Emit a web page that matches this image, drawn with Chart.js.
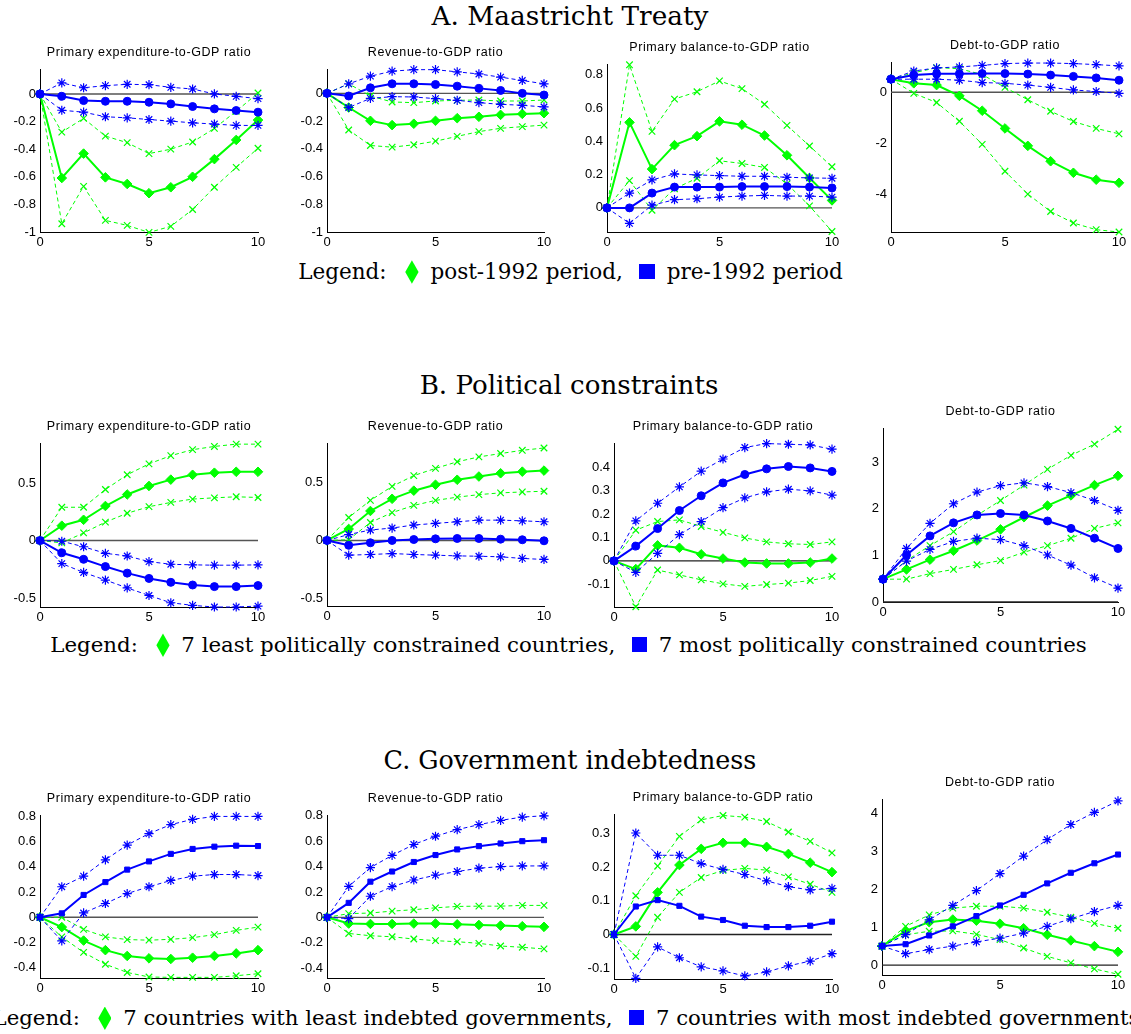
<!DOCTYPE html>
<html><head><meta charset="utf-8">
<script src="https://cdn.jsdelivr.net/npm/chart.js@4.4.1/dist/chart.umd.min.js"></script>
<style>
html,body{margin:0;padding:0;background:#fff;}
body{width:1131px;height:1034px;position:relative;overflow:hidden;}
.cv{position:absolute;}
.ptitle{position:absolute;font-family:"Liberation Sans",Arial,sans-serif;font-size:12.5px;letter-spacing:0.6px;white-space:nowrap;color:#000;line-height:1;}
.fit{position:absolute;font-family:"DejaVu Serif",serif;white-space:nowrap;color:#000;line-height:1.2;}
.dia{display:inline-block;width:0.62em;height:1.1em;background:#00ff00;clip-path:polygon(50% 0,100% 50%,50% 100%,0 50%);vertical-align:-0.22em;margin:0 0.55em 0 0.55em;}
.sq{display:inline-block;width:0.72em;height:0.72em;background:#0000ff;vertical-align:0;margin:0 0.55em 0 0.45em;}
</style></head><body>
<script>
// ---------- shared ----------
const steps = [0,1,2,3,4,5,6,7,8,9,10];
const xTickValues = [0,5,10];
const zeroLine = [0,0,0,0,0,0,0,0,0,0,0];
const panelTitles = ["Primary expenditure-to-GDP ratio","Revenue-to-GDP ratio","Primary balance-to-GDP ratio","Debt-to-GDP ratio"];
const sectionTitles = ["A.  Maastricht Treaty","B.  Political constraints","C.  Government indebtedness"];
const legendLabels = [
  ["post-1992 period,","pre-1992 period"],
  ["7 least politically constrained countries,","7 most politically constrained countries"],
  ["7 countries with least indebted governments,","7 countries with most indebted governments"]
];

// ---------- A. Maastricht Treaty ----------
const aExpG   = [0,-0.609,-0.432,-0.604,-0.652,-0.719,-0.676,-0.600,-0.472,-0.333,-0.189];
const aExpGUp = [0,-0.276,-0.177,-0.305,-0.353,-0.432,-0.400,-0.348,-0.249,-0.125,0.007];
const aExpGLo = [0,-0.940,-0.669,-0.916,-0.952,-1.003,-0.959,-0.837,-0.676,-0.532,-0.393];
const aExpB   = [0,-0.017,-0.048,-0.053,-0.053,-0.060,-0.072,-0.091,-0.108,-0.120,-0.132];
const aExpBUp = [0,0.080,0.045,0.060,0.070,0.067,0.048,0.036,0.000,-0.017,-0.034];
const aExpBLo = [0,-0.118,-0.132,-0.165,-0.173,-0.185,-0.197,-0.209,-0.218,-0.228,-0.228];
const aExpTicks = [-1,-0.8,-0.6,-0.4,-0.2,0];

const aRevG   = [0,-0.102,-0.198,-0.229,-0.219,-0.198,-0.179,-0.169,-0.155,-0.148,-0.143];
const aRevGUp = [0,0.069,-0.019,-0.062,-0.067,-0.055,-0.050,-0.048,-0.055,-0.055,-0.048];
const aRevGLo = [0,-0.264,-0.376,-0.388,-0.371,-0.345,-0.310,-0.276,-0.252,-0.240,-0.229];
const aRevB   = [0,-0.019,0.040,0.069,0.069,0.064,0.052,0.036,0.021,0.000,-0.012];
const aRevBUp = [0,0.069,0.124,0.160,0.171,0.171,0.155,0.140,0.117,0.093,0.069];
const aRevBLo = [0,-0.102,-0.036,-0.024,-0.026,-0.038,-0.050,-0.067,-0.079,-0.086,-0.098];
const aRevTicks = [-1,-0.8,-0.6,-0.4,-0.2,0];

const aBalG   = [0,0.514,0.233,0.377,0.431,0.520,0.500,0.435,0.316,0.180,0.045];
const aBalGUp = [0,0.860,0.460,0.654,0.698,0.763,0.717,0.623,0.496,0.372,0.247];
const aBalGLo = [0,0.164,-0.014,0.115,0.178,0.283,0.267,0.243,0.144,0.012,-0.142];
const aBalB   = [0,0.000,0.089,0.125,0.125,0.125,0.128,0.128,0.128,0.125,0.120];
const aBalBUp = [0,0.089,0.168,0.204,0.198,0.194,0.190,0.190,0.184,0.180,0.178];
const aBalBLo = [0,-0.093,0.016,0.049,0.055,0.065,0.071,0.075,0.071,0.071,0.065];
const aBalTicks = [0,0.2,0.4,0.6,0.8];

const aDebtG   = [0.51,0.35,0.28,-0.14,-0.72,-1.41,-2.09,-2.69,-3.14,-3.41,-3.53];
const aDebtGUp = [0.51,0.76,0.96,0.92,0.69,0.19,-0.29,-0.74,-1.14,-1.41,-1.62];
const aDebtGLo = [0.51,-0.04,-0.40,-1.13,-2.03,-3.08,-3.97,-4.65,-5.10,-5.36,-5.45];
const aDebtB   = [0.51,0.67,0.72,0.72,0.73,0.73,0.71,0.67,0.62,0.56,0.47];
const aDebtBUp = [0.51,0.83,0.95,0.99,1.05,1.12,1.14,1.14,1.12,1.08,1.03];
const aDebtBLo = [0.51,0.51,0.51,0.47,0.38,0.35,0.28,0.19,0.09,0.03,-0.04];
const aDebtTicks = [-4,-2,0];

// ---------- B. Political constraints ----------
const bExpG   = [0,0.129,0.180,0.300,0.400,0.474,0.529,0.571,0.589,0.597,0.597];
const bExpGUp = [0,0.289,0.289,0.443,0.571,0.666,0.737,0.789,0.817,0.837,0.837];
const bExpGLo = [0,-0.020,0.066,0.160,0.237,0.294,0.331,0.360,0.371,0.380,0.374];
const bExpB   = [0,-0.106,-0.163,-0.226,-0.283,-0.329,-0.363,-0.386,-0.400,-0.400,-0.391];
const bExpBUp = [0,-0.006,-0.054,-0.111,-0.134,-0.183,-0.206,-0.211,-0.214,-0.214,-0.211];
const bExpBLo = [0,-0.200,-0.277,-0.343,-0.411,-0.477,-0.540,-0.563,-0.577,-0.577,-0.569];
const bExpTicks = [-0.5,0,0.5];

const bRevG   = [0,0.099,0.254,0.359,0.429,0.480,0.523,0.551,0.579,0.593,0.602];
const bRevGUp = [0,0.198,0.345,0.466,0.559,0.621,0.678,0.720,0.749,0.777,0.797];
const bRevGLo = [0,0.006,0.155,0.240,0.302,0.345,0.373,0.395,0.410,0.418,0.424];
const bRevB   = [0,-0.042,-0.020,0.000,0.008,0.014,0.017,0.017,0.011,0.006,-0.003];
const bRevBUp = [0,0.051,0.090,0.107,0.133,0.147,0.161,0.175,0.175,0.169,0.161];
const bRevBLo = [0,-0.127,-0.121,-0.113,-0.121,-0.127,-0.133,-0.136,-0.141,-0.155,-0.164];
const bRevTicks = [-0.5,0,0.5];

const bBalG   = [0,-0.035,0.066,0.056,0.028,0.010,-0.007,-0.011,-0.011,-0.007,0.010];
const bBalGUp = [0,0.131,0.168,0.175,0.147,0.122,0.098,0.081,0.073,0.070,0.081];
const bBalGLo = [0,-0.196,-0.039,-0.060,-0.081,-0.098,-0.109,-0.101,-0.095,-0.084,-0.066];
const bBalB   = [0,0.063,0.138,0.215,0.278,0.333,0.369,0.393,0.403,0.397,0.382];
const bBalBUp = [0,0.171,0.246,0.316,0.383,0.435,0.484,0.501,0.498,0.495,0.477];
const bBalBLo = [0,-0.049,0.032,0.112,0.168,0.227,0.269,0.295,0.306,0.299,0.281];
const bBalTicks = [-0.1,0,0.1,0.2,0.3,0.4];

const bDebtG   = [0.49,0.70,0.91,1.10,1.32,1.56,1.82,2.07,2.29,2.51,2.71];
const bDebtGUp = [0.49,0.89,1.21,1.51,1.86,2.18,2.51,2.85,3.15,3.39,3.71];
const bDebtGLo = [0.49,0.49,0.61,0.70,0.80,0.89,1.07,1.21,1.37,1.58,1.70];
const bDebtB   = [0.49,1.01,1.42,1.70,1.87,1.90,1.87,1.74,1.58,1.37,1.15];
const bDebtBUp = [0.49,1.15,1.69,2.11,2.36,2.50,2.56,2.48,2.35,2.18,1.97];
const bDebtBLo = [0.49,0.88,1.13,1.30,1.37,1.34,1.21,1.01,0.79,0.52,0.30];
const bDebtTicks = [0,1,2,3];

// ---------- C. Government indebtedness ----------
const cExpG   = [0,-0.078,-0.185,-0.261,-0.307,-0.326,-0.331,-0.321,-0.307,-0.287,-0.261];
const cExpGUp = [0,0.000,-0.096,-0.156,-0.177,-0.182,-0.175,-0.162,-0.138,-0.104,-0.078];
const cExpGLo = [0,-0.156,-0.279,-0.373,-0.438,-0.474,-0.477,-0.477,-0.477,-0.464,-0.448];
const cExpB   = [0,0.031,0.177,0.279,0.378,0.443,0.503,0.542,0.560,0.568,0.565];
const cExpBUp = [0,0.242,0.326,0.456,0.573,0.664,0.735,0.777,0.800,0.800,0.800];
const cExpBLo = [0,-0.188,0.034,0.109,0.188,0.242,0.292,0.326,0.339,0.339,0.331];
const cExpTicks = [-0.4,-0.2,0,0.2,0.4,0.6,0.8];

const cRevG   = [0,-0.049,-0.052,-0.052,-0.049,-0.049,-0.055,-0.060,-0.065,-0.070,-0.075];
const cRevGUp = [0,0.029,0.034,0.049,0.060,0.075,0.086,0.088,0.088,0.094,0.094];
const cRevGLo = [0,-0.127,-0.145,-0.153,-0.171,-0.184,-0.192,-0.205,-0.226,-0.236,-0.249];
const cRevB   = [0,0.114,0.281,0.361,0.436,0.491,0.535,0.561,0.582,0.600,0.608];
const cRevBUp = [0,0.244,0.392,0.488,0.574,0.639,0.691,0.730,0.764,0.790,0.800];
const cRevBLo = [0,-0.010,0.166,0.242,0.294,0.332,0.361,0.387,0.400,0.405,0.405];
const cRevTicks = [-0.4,-0.2,0,0.2,0.4,0.6,0.8];

const cBalG   = [0,0.024,0.125,0.206,0.254,0.272,0.272,0.260,0.239,0.213,0.185];
const cBalGUp = [0,0.115,0.203,0.291,0.340,0.353,0.348,0.335,0.304,0.276,0.242];
const cBalGLo = [0,-0.065,0.051,0.125,0.169,0.190,0.196,0.191,0.171,0.149,0.125];
const cBalB   = [0,0.083,0.102,0.085,0.053,0.043,0.026,0.022,0.022,0.026,0.038];
const cBalBUp = [0,0.301,0.235,0.235,0.210,0.193,0.178,0.159,0.142,0.132,0.137];
const cBalBLo = [0,-0.130,-0.037,-0.069,-0.096,-0.108,-0.123,-0.111,-0.093,-0.079,-0.057];
const cBalTicks = [-0.1,0,0.1,0.2,0.3];

const cDebtG   = [0.50,0.90,1.13,1.20,1.17,1.09,0.97,0.80,0.65,0.50,0.35];
const cDebtGUp = [0.50,1.02,1.32,1.50,1.55,1.55,1.50,1.39,1.26,1.10,0.97];
const cDebtGLo = [0.50,0.80,0.89,0.90,0.81,0.67,0.45,0.23,0.06,-0.10,-0.24];
const cDebtB   = [0.50,0.55,0.78,1.02,1.29,1.57,1.85,2.15,2.43,2.68,2.91];
const cDebtBUp = [0.50,0.80,1.19,1.57,1.96,2.41,2.87,3.30,3.70,4.02,4.32];
const cDebtBLo = [0.50,0.30,0.41,0.50,0.61,0.71,0.84,1.02,1.22,1.41,1.57];
const cDebtTicks = [0,1,2,3,4];

// ---------- layout ----------
const GREEN = '#00ff00', BLUE = '#0000ff';
const panels = [
  {rect:[40,258,68,232],  yr:[-1,0.175],     ticks:aExpTicks,  s:[aExpG,aExpGUp,aExpGLo,aExpB,aExpBUp,aExpBLo], t:0, bm:'circle', zc:'#555'},
  {rect:[327,544,68,232], yr:[-1,0.17],      ticks:aRevTicks,  s:[aRevG,aRevGUp,aRevGLo,aRevB,aRevBUp,aRevBLo], t:1, bm:'circle', zc:'#555'},
  {rect:[607,832,63,232], yr:[-0.145,0.86],  ticks:aBalTicks,  s:[aBalG,aBalGUp,aBalGLo,aBalB,aBalBUp,aBalBLo], t:2, bm:'circle', zc:'#555'},
  {rect:[891,1119,61,232],yr:[-5.45,1.15],   ticks:aDebtTicks, s:[aDebtG,aDebtGUp,aDebtGLo,aDebtB,aDebtBUp,aDebtBLo], t:3, bm:'circle', zc:'#555'},
  {rect:[40,258,442,607], yr:[-0.577,0.84],  ticks:bExpTicks,  s:[bExpG,bExpGUp,bExpGLo,bExpB,bExpBUp,bExpBLo], t:0, bm:'circle', zc:'#555'},
  {rect:[327,544,442,606],yr:[-0.565,0.833], ticks:bRevTicks,  s:[bRevG,bRevGUp,bRevGLo,bRevB,bRevBUp,bRevBLo], t:1, bm:'circle', zc:'#555'},
  {rect:[614,832,442,607],yr:[-0.197,0.5],   ticks:bBalTicks,  s:[bBalG,bBalGUp,bBalGLo,bBalB,bBalBUp,bBalBLo], t:2, bm:'circle', zc:'#222'},
  {rect:[883,1118,427,602],yr:[0,3.72],      ticks:bDebtTicks, s:[bDebtG,bDebtGUp,bDebtGLo,bDebtB,bDebtBUp,bDebtBLo], t:3, bm:'circle', zc:'#222'},
  {rect:[40,258,814,978], yr:[-0.482,0.805], ticks:cExpTicks,  s:[cExpG,cExpGUp,cExpGLo,cExpB,cExpBUp,cExpBLo], t:0, bm:'rect', zc:'#555'},
  {rect:[327,544,814,978],yr:[-0.478,0.8],   ticks:cRevTicks,  s:[cRevG,cRevGUp,cRevGLo,cRevB,cRevBUp,cRevBLo], t:1, bm:'rect', zc:'#555'},
  {rect:[614,832,813,979],yr:[-0.132,0.355], ticks:cBalTicks,  s:[cBalG,cBalGUp,cBalGLo,cBalB,cBalBUp,cBalBLo], t:2, bm:'rect', zc:'#222'},
  {rect:[882,1118,798,975],yr:[-0.26,4.35],  ticks:cDebtTicks, s:[cDebtG,cDebtGUp,cDebtGLo,cDebtB,cDebtBUp,cDebtBLo], t:3, bm:'rect', zc:'#222'}
];
const sectionPos = [[570,17,277],[569,386,299],[570,760,373]];
const legendPos  = [[570.5,272,545],[568.5,645,1037],[566,1018,1147]];

const pts = arr => steps.map((s,i)=>({x:s,y:arr[i]}));
function midDs(arr,color,style){
  return {data:pts(arr),borderColor:color,backgroundColor:color,borderWidth:2,tension:0,clip:false,
    pointStyle:style,pointRadius:style==='rectRot'?4.8:(style==='rect'?3.6:4),pointBorderWidth:1,
    pointBorderColor:color,pointBackgroundColor:color};
}
function bandDs(arr,color,style){
  return {data:pts(arr),borderColor:color,borderWidth:1,borderDash:[4,3],tension:0,clip:false,
    pointStyle:style,pointRadius:4.6,pointBorderWidth:1.2,pointBorderColor:color,pointBackgroundColor:'rgba(0,0,0,0)'};
}

function makePanel(p){
  const [L,R,T,B] = p.rect;
  const padT=10, padR=14, yW=40, xH=22;
  const c = document.createElement('canvas');
  c.width = R-L+yW+padR; c.height = B-T+padT+xH;
  c.className='cv'; c.style.left=(L-yW)+'px'; c.style.top=(T-padT)+'px';
  document.body.appendChild(c);
  const [g,gu,gl,b,bu,bl] = p.s;
  const datasets = [
    midDs(b,BLUE,p.bm), bandDs(bu,BLUE,'star'), bandDs(bl,BLUE,'star'),
    midDs(g,GREEN,'rectRot'), bandDs(gu,GREEN,'crossRot'), bandDs(gl,GREEN,'crossRot'),
    {data:pts(zeroLine),borderColor:p.zc,borderWidth:1.4,pointRadius:0,tension:0,clip:false}
  ];
  const tickFont = {family:'"Liberation Sans", Arial, sans-serif', size:13};
  const yt = p.ticks;
  new Chart(c,{type:'line',data:{datasets},options:{
    responsive:false,animation:false,events:[],
    layout:{padding:{top:padT,right:padR,left:0,bottom:0}},
    plugins:{legend:{display:false},tooltip:{enabled:false}},
    scales:{
      x:{type:'linear',min:0,max:10,bounds:'data',
        afterBuildTicks:s=>{s.ticks=xTickValues.map(v=>({value:v}));},
        afterFit:s=>{s.height=xH;},
        grid:{display:false,drawTicks:false},
        border:{display:true,color:'#000',width:1},
        ticks:{padding:3,color:'#000',font:tickFont,maxRotation:0,autoSkip:false,callback:v=>String(v)}},
      y:{type:'linear',min:p.yr[0],max:p.yr[1],bounds:'data',
        afterBuildTicks:s=>{s.ticks=yt.map(v=>({value:v}));},
        afterFit:s=>{s.width=yW;},
        grid:{display:false,drawTicks:false},
        border:{display:true,color:'#000',width:1},
        ticks:{padding:4,color:'#000',font:tickFont,autoSkip:false,callback:v=>String(v)}}
    }}});
  const tt = document.createElement('div');
  tt.className='ptitle'; tt.textContent = panelTitles[p.t];
  document.body.appendChild(tt);
  const w = tt.getBoundingClientRect().width;
  tt.style.left = ((L+R)/2 - w/2)+'px';
  tt.style.top = (T - 11.5 - 11)+'px';
}

function placeFit(el,cx,cy,w){
  el.style.fontSize='20px';
  const r = el.getBoundingClientRect();
  el.style.fontSize = (20*w/r.width)+'px';
  const r2 = el.getBoundingClientRect();
  el.style.left = (cx - r2.width/2)+'px';
  el.style.top = (cy - r2.height/2)+'px';
}

sectionTitles.forEach((t,i)=>{
  const d=document.createElement('div'); d.className='fit'; d.textContent=t;
  document.body.appendChild(d);
  placeFit(d,...sectionPos[i]);
});
legendLabels.forEach((lab,i)=>{
  const d=document.createElement('div'); d.className='fit';
  d.appendChild(document.createTextNode('Legend: '));
  const di=document.createElement('span'); di.className='dia'; d.appendChild(di);
  d.appendChild(document.createTextNode(lab[0]+' '));
  const sq=document.createElement('span'); sq.className='sq'; d.appendChild(sq);
  d.appendChild(document.createTextNode(lab[1]));
  document.body.appendChild(d);
  placeFit(d,...legendPos[i]);
});
panels.forEach(makePanel);
</script>
</body></html>
